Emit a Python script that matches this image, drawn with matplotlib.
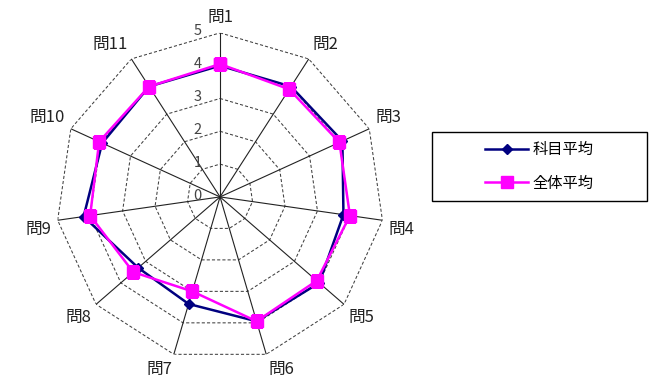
import numpy as np
import matplotlib
matplotlib.use("Agg")
import matplotlib.pyplot as plt
from matplotlib.patches import Rectangle

plt.rcParams["font.family"] = ["Noto Sans CJK JP", "DejaVu Sans"]

labels = ["問1", "問2", "問3", "問4", "問5", "問6", "問7", "問8", "問9", "問10", "問11"]
subject_avg = [4.0, 4.0, 4.1, 3.8, 4.0, 3.95, 3.4, 3.3, 4.2, 3.95, 4.0]
overall_avg = [4.05, 3.9, 4.0, 4.0, 3.9, 3.95, 3.0, 3.5, 4.0, 4.05, 4.0]
rings = [0, 1, 2, 3, 4, 5]

NAVY = "#000080"
PINK = "#ff00ff"
GRID = "#404040"

n = len(labels)
theta = np.arange(n) * 2 * np.pi / n
closed = np.append(theta, theta[0])

fig = plt.figure(figsize=(6.51, 3.82), dpi=100)
ax = fig.add_axes([0.086, 0.055, 0.504, 0.859], projection="polar")
ax.set_theta_offset(np.pi / 2)
ax.set_theta_direction(-1)
ax.set_ylim(0, 5)
ax.grid(False)
ax.spines["polar"].set_visible(False)
ax.set_xticks([])
ax.set_yticks([])
ax.patch.set_alpha(0)

# dashed ring polygons + solid spokes
for r in rings[1:]:
    ax.plot(closed, [r] * (n + 1), color=GRID, lw=0.75, ls=(0, (3, 2)), zorder=1)
for t in theta:
    ax.plot([t, t], [0, 5], color="#222222", lw=0.8, zorder=1)

# radial scale labels
for r in rings:
    ax.annotate(str(r), xy=(0, r), xytext=(-16, 1), textcoords="offset points",
                ha="center", va="center", fontsize=10.5, color="#444444")

# category labels
for t, lab in zip(theta, labels):
    s, c = np.sin(t), np.cos(t)
    ha = "left" if s > 0.1 else ("right" if s < -0.1 else "center")
    va = "bottom" if c > 0.1 else ("top" if c < -0.1 else "center")
    ax.text(t, 5.2, lab, ha=ha, va=va, fontsize=12, color="#222222")

ax.plot(closed, subject_avg + subject_avg[:1], color=NAVY, lw=1.8,
        marker="D", ms=5, label="科目平均", zorder=3)
ax.plot(closed, overall_avg + overall_avg[:1], color=PINK, lw=1.8,
        marker="s", ms=8.5, label="全体平均", zorder=4)

# legend with plain black frame
fig.patches.append(Rectangle((0.664, 0.474), 0.330, 0.181, transform=fig.transFigure,
                             fill=False, edgecolor="black", lw=1.0))
fig.legend(loc="center", bbox_to_anchor=(0.664 + 0.165, 0.474 + 0.0905),
           frameon=False, fontsize=11, handlelength=2.8, handletextpad=0.3,
           labelspacing=1.1)

fig.savefig("out.png", dpi=100, facecolor="white")
